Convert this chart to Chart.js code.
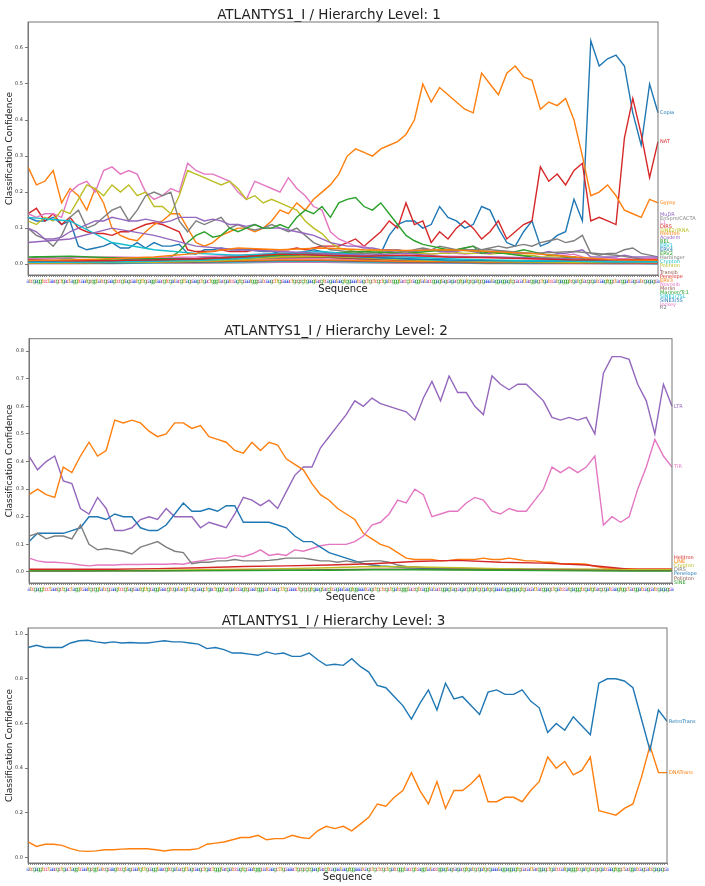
<!DOCTYPE html>
<html>
<head>
<meta charset="utf-8">
<script src="https://cdn.jsdelivr.net/npm/chart.js@4/dist/chart.umd.min.js"></script>
<style>
  body { margin: 0; background: #fff; width: 705px; height: 886px; position: relative; overflow: hidden; }
  canvas { position: absolute; left: 0; }
</style>
</head>
<body>
<canvas id="lvl1" width="705" height="320" style="top:0px"></canvas>
<canvas id="lvl2" width="705" height="298" style="top:312px"></canvas>
<canvas id="lvl3" width="705" height="286" style="top:600px"></canvas>
<script>
// sequence shown under every x axis (one letter per position)
const seq = ('atcgaggtcctaacgctgactaggtcaatgcggtatcgcaagtccgtagc' +
  'aatgttgcaggtaacgtcgatacgttagcaagctgactgggtacgatcca' +
  'gtgcaatgggcatcaagcttgcaaactgcgcgtgaagtacgtcagaataa' +
  'gtggaaatcagctgctcgctgatcgggtaccgtcaggtataccggagtag' +
  'cagacgtgatgcgatgcgaaataggaggagtgcacattacggagctgatc' +
  'catgagggtcgatgtacgcgatcaagtggctacggatcagcatcgagagc' +
  'agaatcggtaggtacgttcagcatgcaaat').slice(0, 301).split('');
const baseColor = { a: '#3550e0', c: '#e8587a', g: '#34a034', t: '#d8a020' };

const STEP = 4;        // main series: one value every 4 positions
const MINOR_STEP = 20; // near-zero series: one value every 20 positions

// ---- level 1 ----
const copia1 = [0.13,0.12,0.12,0.13,0.11,0.12,0.05,0.04,0.045,0.05,
  0.06,0.045,0.045,0.06,0.045,0.06,0.05,0.05,0.055,0.03,
  0.028,0.04,0.04,0.045,0.04,0.04,0.042,0.038,0.035,0.035,
  0.03,0.03,0.032,0.035,0.04,0.035,0.03,0.025,0.02,0.02,
  0.025,0.02,0.03,0.08,0.11,0.12,0.12,0.10,0.11,0.16,
  0.13,0.12,0.10,0.11,0.16,0.15,0.10,0.06,0.05,0.09,
  0.12,0.05,0.06,0.08,0.09,0.18,0.12,0.62,0.55,0.57,
  0.58,0.55,0.42,0.33,0.50,0.42];
const nat1 = [0.14,0.155,0.12,0.14,0.11,0.13,0.10,0.09,0.085,0.085,
  0.08,0.09,0.09,0.10,0.11,0.115,0.11,0.10,0.09,0.04,
  0.035,0.035,0.035,0.04,0.035,0.035,0.035,0.04,0.04,0.04,
  0.04,0.04,0.045,0.04,0.045,0.05,0.05,0.05,0.06,0.07,
  0.05,0.07,0.09,0.12,0.10,0.17,0.11,0.12,0.06,0.09,
  0.07,0.10,0.12,0.10,0.07,0.09,0.12,0.07,0.09,0.11,
  0.12,0.27,0.23,0.25,0.22,0.26,0.28,0.12,0.13,0.12,
  0.11,0.35,0.46,0.36,0.24,0.34];
const gypsy1 = [0.27,0.22,0.23,0.26,0.17,0.21,0.19,0.15,0.21,0.17,
  0.10,0.08,0.07,0.065,0.09,0.11,0.12,0.14,0.14,0.10,
  0.06,0.05,0.06,0.08,0.09,0.10,0.10,0.09,0.10,0.12,
  0.15,0.14,0.17,0.15,0.18,0.20,0.22,0.25,0.30,0.32,
  0.31,0.30,0.32,0.33,0.34,0.36,0.40,0.50,0.45,0.49,
  0.47,0.45,0.43,0.42,0.53,0.50,0.47,0.53,0.55,0.52,
  0.51,0.43,0.45,0.44,0.46,0.40,0.30,0.19,0.20,0.22,
  0.19,0.15,0.14,0.13,0.18,0.17];
const l1_1 = [0.14,0.13,0.14,0.14,0.13,0.20,0.22,0.23,0.20,0.26,
  0.27,0.25,0.26,0.25,0.20,0.18,0.19,0.21,0.20,0.28,
  0.26,0.25,0.25,0.24,0.23,0.20,0.18,0.23,0.22,0.21,
  0.20,0.24,0.21,0.19,0.16,0.15,0.09,0.07,0.06,0.05,
  0.05,0.04,0.035,0.035,0.03,0.03,0.032,0.03,0.028,0.03,
  0.032,0.03,0.028,0.03,0.03,0.032,0.03,0.03,0.028,0.03,
  0.03,0.028,0.025,0.025,0.025,0.028,0.02,0.015,0.015,0.018,
  0.015,0.015,0.018,0.015,0.015,0.016];
const sine2trna1 = [0.12,0.11,0.13,0.12,0.15,0.14,0.18,0.22,0.21,0.19,
  0.22,0.20,0.22,0.19,0.20,0.16,0.16,0.14,0.19,0.26,
  0.25,0.24,0.23,0.22,0.23,0.21,0.18,0.19,0.17,0.18,
  0.17,0.16,0.15,0.12,0.10,0.085,0.06,0.045,0.04,0.035,
  0.035,0.04,0.035,0.03,0.03,0.035,0.03,0.03,0.028,0.03,
  0.03,0.032,0.03,0.03,0.03,0.028,0.03,0.03,0.028,0.025,
  0.025,0.02,0.02,0.02,0.018,0.02,0.015,0.01,0.01,0.012,
  0.01,0.01,0.012,0.01,0.012,0.012];
const enspm1 = [0.10,0.08,0.07,0.05,0.08,0.13,0.15,0.10,0.11,0.13,
  0.15,0.16,0.12,0.15,0.19,0.20,0.19,0.20,0.12,0.09,
  0.12,0.11,0.12,0.13,0.10,0.11,0.10,0.095,0.10,0.11,
  0.10,0.09,0.10,0.08,0.06,0.05,0.04,0.038,0.035,0.035,
  0.03,0.032,0.03,0.035,0.04,0.035,0.04,0.045,0.04,0.05,
  0.045,0.04,0.045,0.05,0.04,0.045,0.05,0.045,0.05,0.055,
  0.05,0.06,0.065,0.07,0.06,0.065,0.08,0.03,0.025,0.03,
  0.03,0.04,0.045,0.03,0.025,0.02];
const mudr1 = [0.10,0.09,0.07,0.07,0.075,0.09,0.10,0.11,0.12,0.12,
  0.13,0.125,0.12,0.12,0.125,0.12,0.115,0.12,0.13,0.13,
  0.13,0.12,0.125,0.12,0.11,0.11,0.105,0.11,0.10,0.10,
  0.10,0.095,0.09,0.085,0.08,0.07,0.06,0.055,0.05,0.05,
  0.045,0.045,0.04,0.04,0.04,0.035,0.035,0.04,0.04,0.035,
  0.035,0.035,0.04,0.035,0.03,0.03,0.035,0.035,0.03,0.03,
  0.03,0.03,0.035,0.03,0.03,0.035,0.04,0.02,0.02,0.02,
  0.02,0.025,0.02,0.02,0.02,0.02];
const bel1 = [0.015,0.02,0.02,0.018,0.015,0.015,0.012,0.012,0.012,0.013,
  0.012,0.012,0.013,0.015,0.015,0.015,0.018,0.02,0.035,0.06,
  0.08,0.09,0.075,0.08,0.10,0.09,0.10,0.11,0.10,0.10,
  0.11,0.10,0.13,0.15,0.14,0.16,0.13,0.17,0.18,0.185,
  0.16,0.15,0.17,0.14,0.11,0.08,0.065,0.055,0.05,0.045,
  0.04,0.04,0.045,0.05,0.03,0.035,0.03,0.03,0.035,0.04,
  0.035,0.03,0.025,0.025,0.02,0.02,0.015,0.012,0.01,0.01,
  0.01,0.01,0.01,0.01,0.01,0.01];
// near-zero level 1 series (every 20 positions)
const helitron1 = [0.01,0.012,0.015,0.02,0.03,0.045,0.04,0.045,0.04,0.038,0.04,0.035,0.03,0.02,0.012,0.011];
const dirs1 = [0.012,0.01,0.01,0.012,0.015,0.02,0.028,0.025,0.022,0.025,0.02,0.018,0.015,0.012,0.012,0.013];
const academ1 = [0.06,0.07,0.1,0.08,0.05,0.04,0.035,0.03,0.025,0.03,0.02,0.02,0.018,0.015,0.012,0.011];
const erv1_1 = [0.13,0.12,0.06,0.04,0.03,0.025,0.03,0.035,0.025,0.02,0.015,0.012,0.01,0.008,0.008,0.009];
const erv4_1 = [0.008,0.01,0.01,0.012,0.015,0.02,0.03,0.025,0.02,0.015,0.012,0.01,0.01,0.008,0.007,0.008];
const erv2_1 = [0.02,0.022,0.018,0.015,0.015,0.02,0.025,0.03,0.035,0.03,0.04,0.035,0.02,0.01,0.008,0.008];
const harbinger1 = [0.012,0.01,0.01,0.012,0.015,0.02,0.025,0.03,0.03,0.035,0.04,0.04,0.03,0.035,0.025,0.007];
const crypton1 = [0.005,0.005,0.006,0.008,0.01,0.015,0.025,0.03,0.02,0.015,0.01,0.01,0.008,0.008,0.006,0.006];
const polinton1 = [0.004,0.004,0.005,0.006,0.008,0.012,0.02,0.022,0.018,0.012,0.01,0.008,0.006,0.005,0.005,0.005];
const i_1 = [0.015,0.018,0.02,0.018,0.02,0.025,0.03,0.028,0.025,0.02,0.022,0.02,0.015,0.01,0.008,0.005];
const transib1 = [0.005,0.005,0.006,0.008,0.01,0.015,0.018,0.02,0.015,0.012,0.01,0.008,0.006,0.005,0.004,0.005];
const penelope1 = [0.006,0.006,0.008,0.01,0.012,0.018,0.02,0.02,0.015,0.012,0.01,0.008,0.008,0.006,0.005,0.004];
const erv3_1 = [0.004,0.004,0.005,0.006,0.008,0.01,0.012,0.012,0.01,0.008,0.007,0.006,0.005,0.004,0.004,0.004];
const novosib1 = [0.006,0.006,0.007,0.008,0.01,0.012,0.015,0.015,0.012,0.01,0.008,0.007,0.006,0.005,0.004,0.003];
const merlin1 = [0.003,0.003,0.004,0.005,0.006,0.008,0.01,0.01,0.008,0.006,0.005,0.004,0.004,0.003,0.003,0.003];
const mariner1 = [0.005,0.005,0.006,0.008,0.012,0.018,0.025,0.02,0.015,0.012,0.01,0.008,0.006,0.005,0.004,0.003];
const sine7sl1 = [0.003,0.003,0.003,0.004,0.005,0.006,0.008,0.008,0.006,0.005,0.004,0.004,0.003,0.003,0.003,0.002];
const sine5s1 = [0.004,0.004,0.004,0.005,0.006,0.008,0.01,0.01,0.008,0.006,0.005,0.004,0.004,0.003,0.003,0.002];
const jockey1 = [0.002,0.002,0.003,0.003,0.004,0.005,0.006,0.006,0.005,0.004,0.003,0.003,0.002,0.002,0.002,0.002];
const r2_1 = [0.002,0.002,0.002,0.003,0.003,0.004,0.005,0.005,0.004,0.003,0.003,0.002,0.002,0.002,0.001,0.001];

// ---- level 2 ----
const ltr2 = [0.42,0.37,0.40,0.42,0.33,0.32,0.23,0.21,0.27,0.23,
  0.15,0.15,0.16,0.19,0.20,0.19,0.23,0.20,0.20,0.20,
  0.16,0.18,0.17,0.16,0.21,0.27,0.26,0.24,0.26,0.23,
  0.29,0.35,0.38,0.38,0.45,0.49,0.53,0.57,0.62,0.60,
  0.63,0.61,0.60,0.59,0.58,0.55,0.63,0.69,0.62,0.71,
  0.65,0.65,0.60,0.57,0.71,0.68,0.66,0.68,0.68,0.65,
  0.62,0.56,0.55,0.56,0.55,0.56,0.50,0.72,0.78,0.78,
  0.77,0.68,0.62,0.50,0.68,0.60];
const line2 = [0.28,0.30,0.28,0.27,0.38,0.36,0.42,0.47,0.42,0.44,
  0.55,0.54,0.55,0.54,0.51,0.49,0.50,0.54,0.54,0.52,
  0.53,0.49,0.48,0.47,0.44,0.43,0.47,0.44,0.47,0.46,
  0.41,0.39,0.37,0.32,0.28,0.26,0.23,0.21,0.19,0.14,
  0.12,0.10,0.09,0.07,0.05,0.045,0.045,0.045,0.04,0.042,
  0.045,0.045,0.045,0.05,0.045,0.045,0.05,0.045,0.04,0.04,
  0.035,0.035,0.03,0.03,0.03,0.028,0.02,0.015,0.012,0.012,
  0.012,0.01,0.01,0.01,0.01,0.01];
const penelope2 = [0.11,0.14,0.14,0.14,0.14,0.15,0.16,0.20,0.20,0.19,
  0.21,0.20,0.20,0.16,0.15,0.15,0.17,0.21,0.25,0.22,
  0.22,0.23,0.22,0.24,0.24,0.18,0.18,0.18,0.18,0.17,
  0.16,0.13,0.11,0.11,0.09,0.07,0.06,0.05,0.04,0.03,
  0.025,0.022,0.02,0.018,0.015,0.014,0.013,0.013,0.012,0.012,
  0.012,0.011,0.011,0.01,0.01,0.01,0.01,0.01,0.009,0.009,
  0.009,0.008,0.008,0.008,0.008,0.008,0.007,0.007,0.007,0.007,
  0.006,0.006,0.006,0.006,0.006,0.006];
const dirs2 = [0.13,0.14,0.12,0.13,0.13,0.12,0.17,0.10,0.08,0.085,
  0.08,0.075,0.065,0.09,0.10,0.11,0.09,0.075,0.07,0.03,
  0.035,0.035,0.04,0.04,0.045,0.04,0.04,0.04,0.042,0.045,
  0.05,0.05,0.05,0.045,0.04,0.04,0.035,0.04,0.035,0.038,
  0.04,0.04,0.035,0.025,0.02,0.018,0.016,0.015,0.015,0.014,
  0.013,0.013,0.012,0.012,0.012,0.011,0.011,0.011,0.01,0.01,
  0.01,0.01,0.01,0.01,0.009,0.009,0.009,0.009,0.008,0.008,
  0.008,0.008,0.008,0.008,0.008,0.008];
const tir2 = [0.05,0.04,0.035,0.035,0.033,0.03,0.025,0.022,0.025,0.025,
  0.025,0.027,0.027,0.027,0.028,0.028,0.028,0.03,0.028,0.035,
  0.04,0.045,0.05,0.05,0.06,0.055,0.065,0.08,0.06,0.065,
  0.06,0.08,0.075,0.085,0.095,0.10,0.10,0.10,0.11,0.13,
  0.17,0.18,0.21,0.26,0.25,0.30,0.28,0.20,0.21,0.22,
  0.22,0.25,0.27,0.26,0.22,0.21,0.23,0.22,0.22,0.26,
  0.30,0.38,0.36,0.38,0.36,0.38,0.42,0.17,0.20,0.18,
  0.20,0.30,0.38,0.48,0.42,0.38];
const helitron2 = [0.01,0.01,0.01,0.012,0.015,0.02,0.022,0.025,0.03,0.038,0.042,0.035,0.032,0.025,0.01,0.01];
const sine2 = [0.004,0.004,0.004,0.004,0.005,0.005,0.006,0.006,0.008,0.008,0.007,0.006,0.005,0.004,0.003,0.003];
const crypton2 = [0.005,0.005,0.005,0.006,0.008,0.01,0.012,0.015,0.02,0.018,0.015,0.012,0.01,0.01,0.008,0.008];
const polinton2 = [0.003,0.003,0.004,0.004,0.005,0.006,0.006,0.008,0.01,0.01,0.009,0.008,0.007,0.006,0.005,0.005];

// ---- level 3 ----
const retro3 = [0.94,0.95,0.94,0.94,0.94,0.96,0.97,0.972,0.965,0.96,
  0.965,0.96,0.962,0.96,0.96,0.965,0.97,0.965,0.965,0.96,
  0.955,0.935,0.94,0.93,0.915,0.915,0.91,0.905,0.92,0.91,
  0.915,0.90,0.90,0.915,0.885,0.86,0.865,0.86,0.89,0.855,
  0.83,0.77,0.76,0.72,0.68,0.62,0.69,0.75,0.66,0.78,
  0.71,0.72,0.68,0.64,0.74,0.75,0.73,0.73,0.75,0.70,
  0.67,0.56,0.60,0.57,0.63,0.59,0.55,0.78,0.80,0.80,
  0.79,0.76,0.62,0.48,0.66,0.61];
const dna3 = [0.07,0.05,0.06,0.06,0.055,0.04,0.03,0.028,0.03,0.035,
  0.035,0.038,0.04,0.04,0.04,0.035,0.03,0.035,0.035,0.035,
  0.04,0.06,0.065,0.07,0.08,0.09,0.09,0.10,0.08,0.085,
  0.085,0.10,0.09,0.085,0.12,0.14,0.13,0.14,0.12,0.15,
  0.18,0.24,0.23,0.27,0.30,0.38,0.30,0.24,0.34,0.22,
  0.30,0.30,0.33,0.37,0.25,0.25,0.27,0.27,0.25,0.30,
  0.34,0.45,0.40,0.43,0.37,0.39,0.45,0.21,0.20,0.19,
  0.22,0.24,0.36,0.50,0.38,0.38];

const C = { blue: '#1f77b4', orange: '#ff7f0e', green: '#2ca02c', red: '#d62728', purple: '#9467bd',
  brown: '#8c564b', pink: '#e377c2', gray: '#7f7f7f', olive: '#bcbd22', cyan: '#17becf' };

function line(label, color, vals, step) {
  return { label, borderColor: color, borderWidth: 1.4, pointRadius: 0, tension: 0, fill: false,
    data: vals.map((v, i) => ({ x: i * step, y: v })) };
}

// box around the plot (matplotlib keeps all four spines)
const frame = {
  id: 'frame',
  afterDatasetsDraw(chart) {
    const { ctx, chartArea: a } = chart;
    ctx.save();
    ctx.strokeStyle = '#777';
    ctx.lineWidth = 1;
    ctx.strokeRect(a.left, a.top, a.right - a.left, a.bottom - a.top);
    ctx.restore();
  }
};

// class name written right of the last point, pushed apart when crowded
const endLabels = {
  id: 'endLabels',
  afterDraw(chart, args, opts) {
    const { ctx, chartArea, scales } = chart;
    const items = chart.data.datasets.map(ds => ({
      text: ds.label, color: ds.borderColor,
      y: scales.y.getPixelForValue(ds.data[ds.data.length - 1].y)
    }));
    items.sort((a, b) => a.y - b.y);
    for (let k = 0; k < 400; k++) {
      for (let i = 1; i < items.length; i++) {
        const d = items[i].y - items[i - 1].y;
        if (d < opts.gap) {
          const s = (opts.gap - d) / 2;
          items[i - 1].y -= s;
          items[i].y += s;
        }
      }
    }
    ctx.save();
    ctx.font = '5px "DejaVu Sans"';
    ctx.textBaseline = 'middle';
    ctx.textAlign = 'left';
    items.forEach(it => { ctx.fillStyle = it.color; ctx.fillText(it.text, chartArea.right + 2, it.y); });
    ctx.restore();
  }
};

Chart.defaults.font.family = '"DejaVu Sans", sans-serif';

function makeChart(id, title, datasets, yMin, yMax, yStep, box) {
  return new Chart(document.getElementById(id).getContext('2d'), {
    type: 'line',
    data: { labels: seq, datasets },
    plugins: [frame, endLabels],
    options: {
      responsive: false,
      animation: false,
      devicePixelRatio: 1,
      parsing: false,
      layout: { padding: { left: 0, right: box.right, top: 0, bottom: box.bottom } },
      plugins: {
        legend: { display: false },
        tooltip: { enabled: false },
        title: { display: true, text: title, color: '#222',
          font: { size: 13.5, weight: 'normal', lineHeight: 1 }, padding: { top: box.titleTop, bottom: 0 } },
        endLabels: { gap: box.gap }
      },
      scales: {
        x: {
          type: 'category',
          offset: false,
          grid: { drawOnChartArea: false, tickLength: 2, color: '#888' },
          border: { color: '#777' },
          ticks: { autoSkip: false, minRotation: 0, maxRotation: 0, padding: 1,
            font: { size: 6 }, color: c => baseColor[c.tick && c.tick.label] || '#555' },
          title: { display: true, text: 'Sequence', color: '#222', font: { size: 10 }, padding: 0 },
          afterFit: s => { s.height = 20; }
        },
        y: {
          min: yMin, max: yMax,
          grid: { drawOnChartArea: false, tickLength: 3, color: '#777' },
          border: { color: '#777' },
          ticks: { stepSize: yStep, includeBounds: false, padding: 2, font: { size: 5 }, color: '#333',
            callback: v => v.toFixed(1) },
          title: { display: true, text: 'Classification Confidence', color: '#222',
            font: { size: 9 }, padding: { top: 4.6, bottom: 0 } },
          afterFit: s => { s.width = box.left; }
        }
      }
    }
  });
}

makeChart('lvl1', 'ATLANTYS1_I / Hierarchy Level: 1', [
  line('Helitron', C.orange, helitron1, MINOR_STEP),
  line('DIRS', C.red, dirs1, MINOR_STEP),
  line('Academ', C.purple, academ1, MINOR_STEP),
  line('ERV1', C.cyan, erv1_1, MINOR_STEP),
  line('ERV4', C.blue, erv4_1, MINOR_STEP),
  line('ERV2', C.green, erv2_1, MINOR_STEP),
  line('Harbinger', C.gray, harbinger1, MINOR_STEP),
  line('Crypton', C.cyan, crypton1, MINOR_STEP),
  line('Polinton', C.olive, polinton1, MINOR_STEP),
  line('I', C.pink, i_1, MINOR_STEP),
  line('Transib', C.brown, transib1, MINOR_STEP),
  line('Penelope', C.red, penelope1, MINOR_STEP),
  line('ERV3', C.orange, erv3_1, MINOR_STEP),
  line('Novosib', C.pink, novosib1, MINOR_STEP),
  line('Merlin', C.brown, merlin1, MINOR_STEP),
  line('Mariner/Tc1', C.green, mariner1, MINOR_STEP),
  line('SINE1/7SL', C.cyan, sine7sl1, MINOR_STEP),
  line('SINE3/5S', C.blue, sine5s1, MINOR_STEP),
  line('Jockey', C.pink, jockey1, MINOR_STEP),
  line('R2', C.gray, r2_1, MINOR_STEP),
  line('BEL', C.green, bel1, STEP),
  line('MuDR', C.purple, mudr1, STEP),
  line('EnSpm/CACTA', C.gray, enspm1, STEP),
  line('SINE2/tRNA', C.olive, sine2trna1, STEP),
  line('L1', C.pink, l1_1, STEP),
  line('Gypsy', C.orange, gypsy1, STEP),
  line('NAT', C.red, nat1, STEP),
  line('Copia', C.blue, copia1, STEP)
], -0.03, 0.672, 0.1, { left: 28, right: 47, bottom: 25, titleTop: 8.5, gap: 3.9 });

makeChart('lvl2', 'ATLANTYS1_I / Hierarchy Level: 2', [
  line('SINE', C.green, sine2, MINOR_STEP),
  line('Polinton', C.brown, polinton2, MINOR_STEP),
  line('Crypton', C.olive, crypton2, MINOR_STEP),
  line('Helitron', C.red, helitron2, MINOR_STEP),
  line('DIRS', C.gray, dirs2, STEP),
  line('Penelope', C.blue, penelope2, STEP),
  line('TIR', C.pink, tir2, STEP),
  line('LINE', C.orange, line2, STEP),
  line('LTR', C.purple, ltr2, STEP)
], -0.04, 0.845, 0.1, { left: 29, right: 33, bottom: 7, titleTop: 13.2, gap: 4.2 });

makeChart('lvl3', 'ATLANTYS1_I / Hierarchy Level: 3', [
  line('RetroTrans', C.blue, retro3, STEP),
  line('DNATrans', C.orange, dna3, STEP)
], -0.024, 1.027, 0.2, { left: 28, right: 38, bottom: 3, titleTop: 14.5, gap: 4.2 });
</script>
</body>
</html>
